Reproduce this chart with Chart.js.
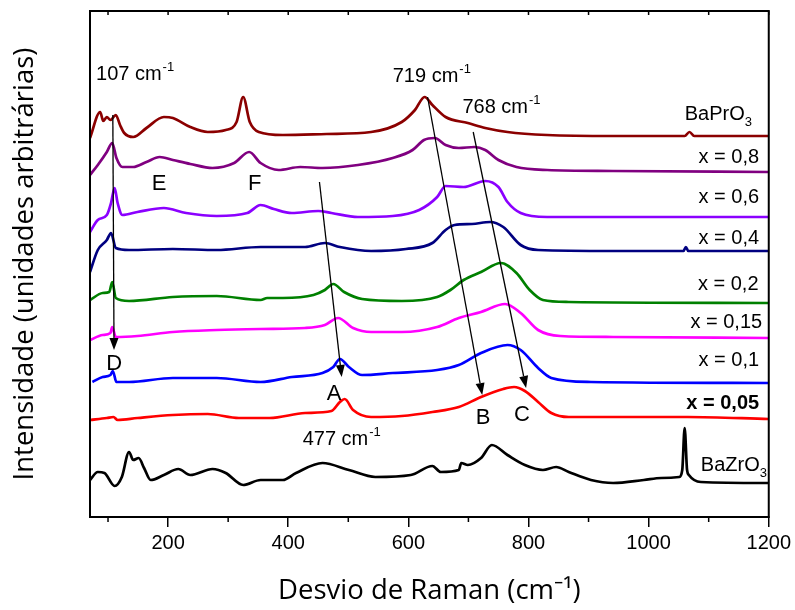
<!DOCTYPE html>
<html>
<head>
<meta charset="utf-8">
<script src="https://cdn.jsdelivr.net/npm/chart.js@4"></script>
<style>
  body { margin: 0; background: #fff; }
  #wrap { width: 795px; height: 610px; }
</style>
</head>
<body>
<div id="wrap"><canvas id="raman"></canvas></div>
<script>
const xTicks = [200, 400, 600, 800, 1000, 1200];
const xMinorTicks = [100, 300, 500, 700, 900, 1100];

// spectra, [Raman shift (cm-1), intensity (a.u., already offset)]
const baPrO3 = [[70,189.5],[87,202.5],[92,198],[98,200],[104,198.5],[113,201],[120,196],[127,192],[142,190],[164,194.5],[193,200],[208,199.5],[237,195],[266,192.5],[296,193.5],[314,197.5],[325,210],[336,197.5],[351,192.5],[391,191],[464,191.5],[538,192.5],[589,197.5],[611,203.5],[627,210],[640,206],[662,200],[699,197],[728,194.5],[765,192.5],[831,191],[941,190.5],[1060,190.5],[1068,192.5],[1076,190.5],[1200,190.5]];
const x080 = [[70,171],[83,176],[98,182.5],[107,187],[114,179.5],[124,175],[142,175],[164,177.5],[186,180],[208,178.5],[237,176.5],[274,174.5],[310,177],[335,182.5],[354,177],[384,173.5],[420,175],[457,174.5],[516,176],[574,179.5],[607,183.5],[626,188.5],[644,189.5],[662,186],[684,184.5],[710,185],[728,183.5],[750,178.5],[780,175],[831,173.5],[941,173],[1200,172.5]];
const x060 = [[70,142.5],[83,148.5],[98,151],[105,157],[111,164.5],[116,157],[124,151],[149,152.5],[193,154.5],[230,152],[281,150.5],[332,152],[354,156],[376,154],[406,152],[450,153],[472,152],[516,150],[574,150.5],[618,153.5],[648,160],[662,165.5],[692,165],[728,168],[750,165],[765,157.5],[787,152],[831,150],[1014,150],[1200,150]];
const x040 = [[70,122.5],[83,133.5],[98,138.5],[105,142],[113,134.5],[135,133.5],[208,134],[281,133.5],[354,135],[391,135],[428,135],[461,137],[486,135],[538,133],[596,134],[640,137],[662,143.5],[677,146],[706,146.5],[736,147.5],[758,145],[787,136],[816,133.5],[941,133],[1058,133],[1062,135],[1066,133],[1200,133]];
const x020 = [[70,108.5],[91,112],[102,112.5],[107,117.5],[113,109.5],[135,108],[208,110],[281,110.5],[354,108.5],[365,109.5],[391,109.5],[442,111],[461,113.5],[475,116.5],[493,112.5],[523,109],[589,108],[648,110],[670,113.5],[692,118.5],[721,122.5],[754,127],[780,122],[802,113.5],[824,108.5],[867,107.5],[1200,107]];
const x015 = [[70,88.5],[91,91],[104,92],[107,95],[113,90],[149,90.5],[208,92.5],[281,93.5],[354,94],[428,94.5],[461,96],[483,99.5],[508,94.5],[538,92.5],[589,92.5],[648,95],[684,99.5],[721,102.5],[761,106.5],[787,102],[816,93.5],[853,90.5],[941,90],[1200,89.5]];
const x010 = [[74,67.5],[91,70],[104,71],[108,73],[114,67.5],[135,67.5],[208,69.5],[281,69.5],[354,67.5],[406,70],[457,72],[475,75],[486,79],[501,75],[523,71],[574,72],[648,73.5],[684,76],[721,82],[765,86],[787,83.5],[816,74.5],[838,69.5],[904,67.5],[1200,67]];
const x005 = [[70,48.5],[98,49.5],[109,50],[116,48.5],[149,49.5],[208,51],[266,51.5],[318,49.5],[369,49.5],[428,52],[472,53],[486,57.5],[494,59],[508,53.5],[538,50],[589,50.5],[640,52.5],[684,55],[721,60],[758,64],[776,65],[794,63],[816,57.5],[838,52],[867,50],[999,50],[1065,50],[1200,49]];
const baZrO3 = [[70,18.5],[83,22.5],[94,22],[111,15.5],[123,20],[135,32.5],[142,28.5],[151,29.5],[160,24.5],[171,18.5],[193,21],[217,24],[237,21],[274,24],[296,22],[325,16],[354,18.5],[391,18.5],[413,22],[457,27],[501,23.5],[545,20],[604,21],[640,25.5],[654,22.5],[684,23.5],[688,27],[699,26],[721,29.5],[739,36],[765,31],[794,26],[824,23.5],[846,25],[867,22.5],[904,18.5],[941,17],[992,18.5],[1021,19.5],[1051,20],[1056,23.5],[1060,44.5],[1064,23.5],[1067,21],[1087,17.5],[1200,17]];

const seriesNames = ['BaPrO3', 'x = 0,8', 'x = 0,6', 'x = 0,4', 'x = 0,2', 'x = 0,15', 'x = 0,1', 'x = 0,05', 'BaZrO3'];
const seriesData = [baPrO3, x080, x060, x040, x020, x015, x010, x005, baZrO3];
const seriesColors = ['#8B0000', '#800080', '#8B00FF', '#000080', '#008000', '#FF00FF', '#0000FF', '#FF0000', '#000000'];

// text on the plot, in data units
const curveLabels = [
  { x: 1172, y: 198.5, text: 'BaPrO', sub: '3' },
  { x: 1184, y: 177, text: 'x = 0,8' },
  { x: 1184, y: 157, text: 'x = 0,6' },
  { x: 1184, y: 136.5, text: 'x = 0,4' },
  { x: 1183, y: 113.5, text: 'x = 0,2' },
  { x: 1189, y: 94.5, text: 'x = 0,15' },
  { x: 1184, y: 75.5, text: 'x = 0,1' },
  { x: 1184, y: 54, text: 'x = 0,05', bold: true },
  { x: 1197, y: 23, text: 'BaZrO', sub: '3' }
];
const peakLabels = [
  { x: 80, y: 218.5, text: '107 cm', sup: '-1' },
  { x: 574, y: 217.5, text: '719 cm', sup: '-1' },
  { x: 690, y: 202, text: '768 cm', sup: '-1' },
  { x: 424, y: 36, text: '477 cm', sup: '-1' }
];
const modeLetters = [
  { x: 173, y: 163.5, text: 'E' },
  { x: 333, y: 163.5, text: 'F' },
  { x: 97, y: 73.5, text: 'D' },
  { x: 464, y: 58.5, text: 'A' },
  { x: 712, y: 46.5, text: 'B' },
  { x: 776, y: 48, text: 'C' }
];
const arrows = [
  [108, 201, 110, 83.5],
  [452, 167.5, 489, 70],
  [632, 210, 723, 61],
  [708, 192.5, 796, 64.5]
];

const FONT = '"Liberation Sans", Arial, sans-serif';

function richText(ctx, lab, px, py, size, alignRight) {
  const main = (lab.bold ? 'bold ' : '') + size + 'px ' + FONT;
  const small = Math.round(size * 0.65) + 'px ' + FONT;
  ctx.font = main;
  const w1 = ctx.measureText(lab.text).width;
  ctx.font = small;
  const extra = lab.sup || lab.sub || '';
  const w2 = extra ? ctx.measureText(extra).width : 0;
  const x0 = alignRight ? px - w1 - w2 : px;
  ctx.font = main;
  ctx.fillText(lab.text, x0, py);
  ctx.font = small;
  if (lab.sup) ctx.fillText(lab.sup, x0 + w1 + 1, py - size * 0.45);
  if (lab.sub) ctx.fillText(lab.sub, x0 + w1, py + size * 0.3);
}

function drawArrow(ctx, x1, y1, x2, y2) {
  const a = Math.atan2(y2 - y1, x2 - x1), L = 12, W = 4.5;
  const bx = x2 - L * Math.cos(a), by = y2 - L * Math.sin(a);
  ctx.beginPath();
  ctx.moveTo(x1, y1);
  ctx.lineTo(bx, by);
  ctx.stroke();
  ctx.beginPath();
  ctx.moveTo(x2, y2);
  ctx.lineTo(bx + W * Math.sin(a), by - W * Math.cos(a));
  ctx.lineTo(bx - W * Math.sin(a), by + W * Math.cos(a));
  ctx.closePath();
  ctx.fill();
}

const extras = {
  id: 'extras',
  afterDatasetsDraw(chart) {
    const { ctx, chartArea: ca, scales: { x, y } } = chart;
    ctx.save();
    ctx.strokeStyle = '#000';
    ctx.fillStyle = '#000';
    ctx.lineWidth = 1.3;
    arrows.forEach(a => drawArrow(ctx, x.getPixelForValue(a[0]), y.getPixelForValue(a[1]),
      x.getPixelForValue(a[2]), y.getPixelForValue(a[3])));

    ctx.textBaseline = 'alphabetic';
    ctx.textAlign = 'left';
    curveLabels.forEach(l => richText(ctx, l, x.getPixelForValue(l.x), y.getPixelForValue(l.y), 20, true));
    peakLabels.forEach(l => richText(ctx, l, x.getPixelForValue(l.x), y.getPixelForValue(l.y), 20, false));
    modeLetters.forEach(l => richText(ctx, l, x.getPixelForValue(l.x), y.getPixelForValue(l.y), 22, false));

    // frame + minor / top ticks
    ctx.lineWidth = 2;
    ctx.strokeRect(ca.left, ca.top, ca.right - ca.left, ca.bottom - ca.top);
    ctx.lineWidth = 1.5;
    ctx.beginPath();
    xMinorTicks.forEach(v => {
      const px = x.getPixelForValue(v);
      ctx.moveTo(px, ca.bottom);
      ctx.lineTo(px, ca.bottom + 5);
    });
    xTicks.concat(xMinorTicks).forEach(v => {
      const px = x.getPixelForValue(v);
      ctx.moveTo(px, ca.top);
      ctx.lineTo(px, ca.top + 4);
    });
    ctx.stroke();
    ctx.restore();
  }
};

new Chart(document.getElementById('raman'), {
  type: 'line',
  data: {
    datasets: seriesData.map((d, i) => ({
      label: seriesNames[i],
      data: d.map(p => ({ x: p[0], y: p[1] })),
      borderColor: seriesColors[i],
      borderWidth: 2.7,
      pointRadius: 0,
      cubicInterpolationMode: 'monotone',
      fill: false
    }))
  },
  options: {
    responsive: true,
    maintainAspectRatio: false,
    animation: false,
    layout: { padding: { top: 11, right: 26, left: 0, bottom: 0 } },
    plugins: { legend: { display: false }, tooltip: { enabled: false } },
    scales: {
      x: {
        type: 'linear',
        min: 70,
        max: 1200,
        afterBuildTicks(scale) { scale.ticks = xTicks.map(v => ({ value: v })); },
        afterFit(scale) { scale.height = 93; },
        border: { display: true, color: '#000', width: 2 },
        grid: { drawOnChartArea: false, drawTicks: true, tickLength: 10, color: '#000', lineWidth: 1.5 },
        ticks: {
          color: '#000', padding: 4, maxRotation: 0,
          font: { family: FONT, size: 20 },
          callback: v => String(v)
        },
        title: {
          display: true,
          text: 'Desvio de Raman (cm⁻¹)',
          color: '#000',
          padding: { top: 4, bottom: 2 },
          font: { family: '"Open Sans", sans-serif', size: 27.5 }
        }
      },
      y: {
        min: 0,
        max: 253,
        afterFit(scale) { scale.width = 90; },
        border: { display: true, color: '#000', width: 2 },
        grid: { display: false },
        ticks: { display: false },
        title: {
          display: true,
          text: 'Intensidade (unidades arbitrárias)',
          color: '#000',
          padding: { top: 9, bottom: 4 },
          font: { family: '"Open Sans", sans-serif', size: 27.5 }
        }
      }
    }
  },
  plugins: [extras]
});
</script>
</body>
</html>
